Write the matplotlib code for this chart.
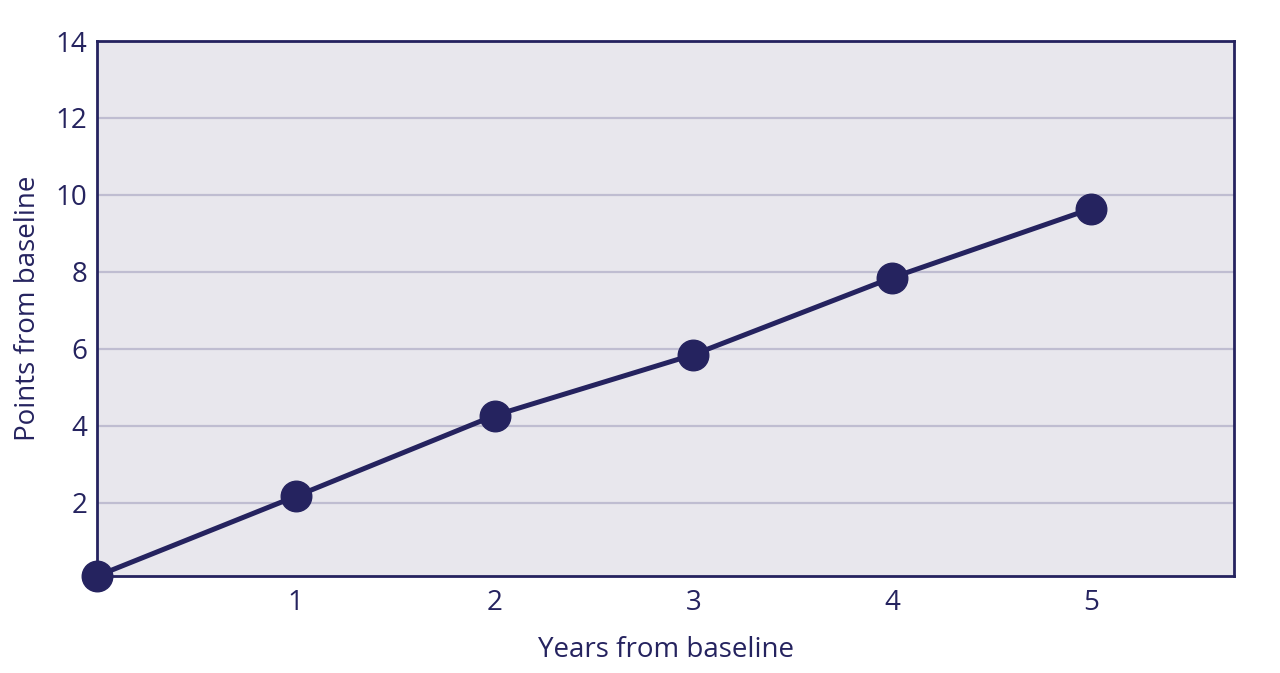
import matplotlib
matplotlib.use("Agg")
import matplotlib.pyplot as plt

years = [0, 1, 2, 3, 4, 5]
points = [0.1, 2.17, 4.27, 5.85, 7.85, 9.64]
xticks = [1, 2, 3, 4, 5]
yticks = [2, 4, 6, 8, 10, 12, 14]
xlabel = "Years from baseline"
ylabel = "Points from baseline"

navy = "#25235f"
bg = "#e8e7ed"
grid = "#bfbdd1"

plt.rcParams['font.family'] = ['Open Sans', 'DejaVu Sans']

fig = plt.figure(figsize=(12.8, 6.73), dpi=100)
ax = fig.add_axes([97/1280, 1 - 576/673, (1234-97)/1280, (576-41)/673])
ax.set_facecolor(bg)
ax.plot(years, points, color=navy, lw=3.6, marker='o', markersize=22,
        clip_on=False, zorder=5)
ax.set_xlim(0, 5.72)
ax.set_ylim(0.1, 14)
ax.set_xticks(xticks)
ax.set_yticks(yticks)
ax.set_xticklabels([str(t) for t in xticks])
ax.set_yticklabels([str(t) for t in yticks])
ax.grid(axis='y', color=grid, lw=1.6)
ax.set_axisbelow(True)
for s in ax.spines.values():
    s.set_color(navy)
    s.set_linewidth(2)
ax.tick_params(length=0, labelsize=20, labelcolor=navy)
ax.tick_params(axis='y', pad=7)
ax.tick_params(axis='x', pad=9)
ax.set_xlabel(xlabel, fontsize=20, color=navy, labelpad=14)
ax.set_ylabel(ylabel, fontsize=20, color=navy, labelpad=10)

fig.savefig("out.png", dpi=100, facecolor="white")
